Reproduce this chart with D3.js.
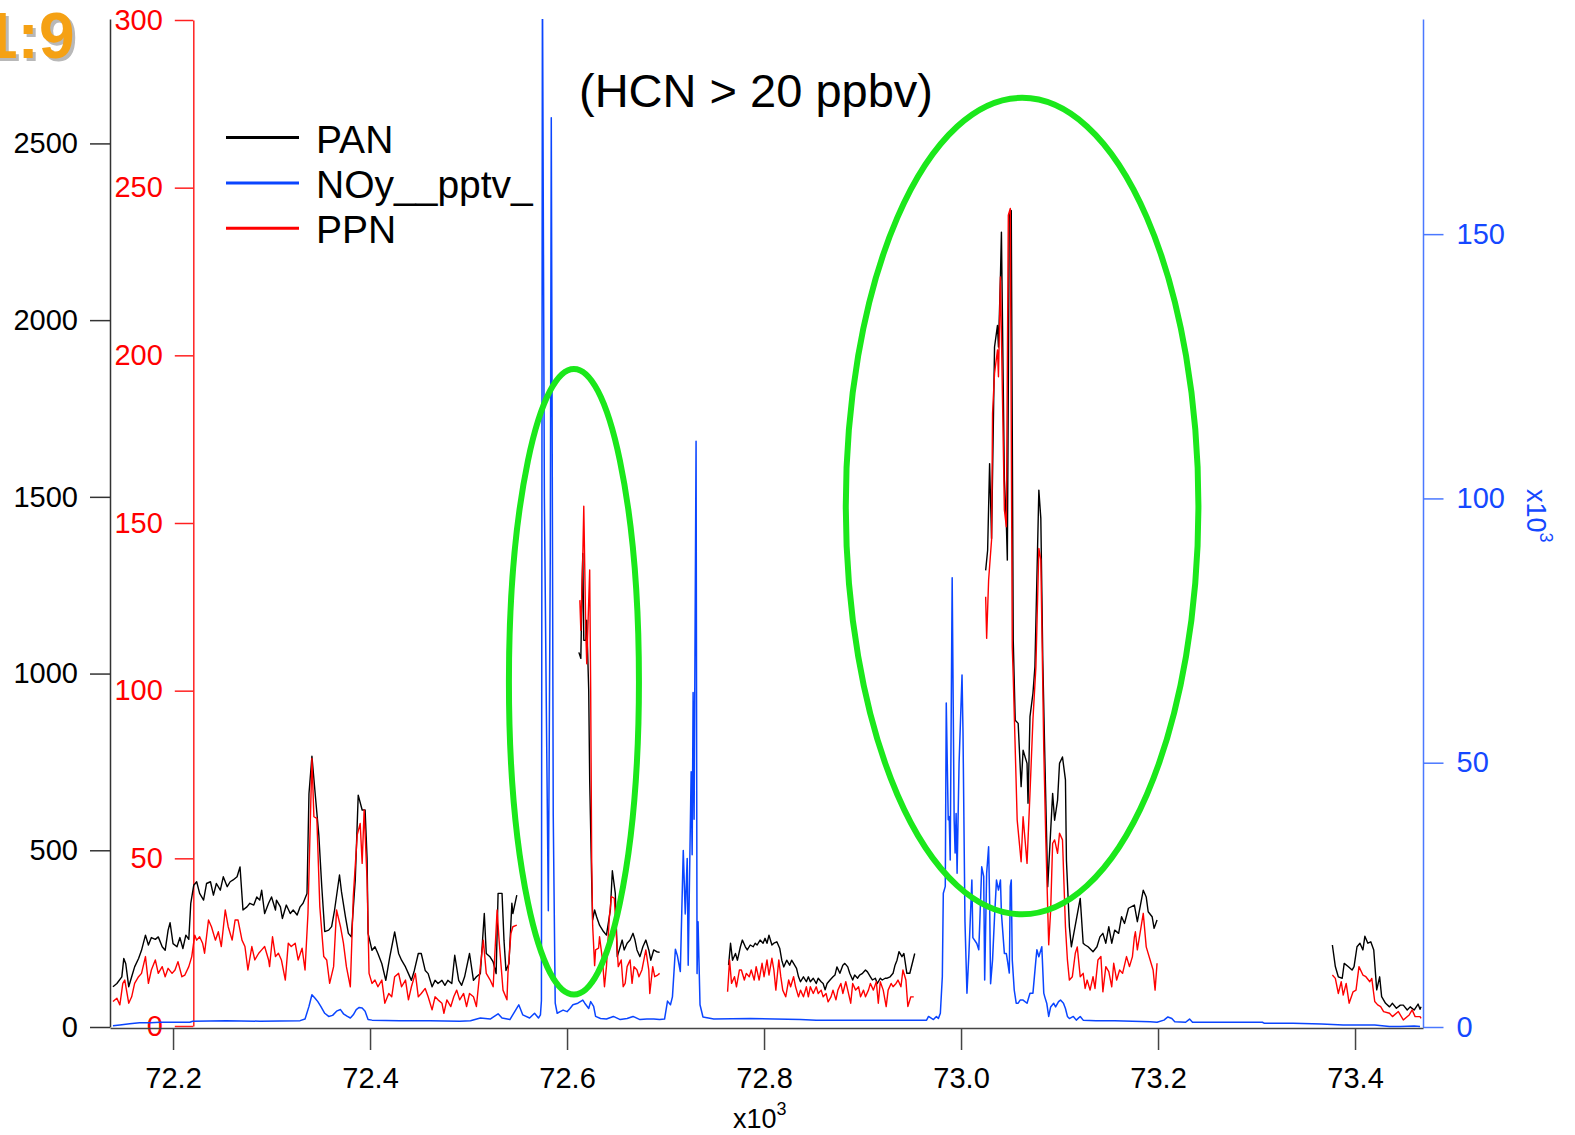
<!DOCTYPE html>
<html>
<head>
<meta charset="utf-8">
<script src="https://cdn.jsdelivr.net/npm/d3@7"></script>
<style>
body { margin: 0; background: #fff; }
svg { display: block; font-family: "Liberation Sans", Arial, Helvetica, sans-serif; }
</style>
</head>
<body>
<div id="chart"></div>
<script>
// time in seconds (axis shows x10^3), PAN / PPN in pptv, NOy in thousands of pptv
// null breaks a trace where the instrument has no data

let panData = [
  [72139,114],[72143,123],[72148,142],[72150,194],[72152,179],[72155,114],[72158,142],[72161,170],[72165,194],[72168,217],
  [72172,260],[72175,232],[72178,253],[72182,248],[72185,255],[72189,227],[72192,217],[72195,274],[72197,295],[72200,236],
  [72204,227],[72207,253],[72210,222],[72213,260],[72216,248],[72218,350],[72221,401],[72224,411],[72227,378],[72231,359],
  [72234,406],[72238,411],[72241,373],[72244,406],[72248,387],[72251,425],[72255,397],[72258,411],[72261,416],[72265,425],
  [72268,453],[72271,331],[72275,340],[72278,350],[72282,345],[72285,368],[72288,359],[72290,387],[72293,321],[72297,350],
  [72300,368],[72304,331],[72305,359],[72309,340],[72311,307],[72315,345],[72319,321],[72322,331],[72326,317],[72329,340],
  [72332,350],[72336,378],[72338,660],[72341,766],[72344,670],[72348,543],[72351,397],[72354,270],[72358,274],[72361,284],
  [72364,331],[72369,430],[72371,383],[72375,312],[72378,265],[72381,255],[72385,416],[72388,656],[72392,614],[72395,614],
  [72397,477],[72398,265],[72402,217],[72405,227],[72408,208],[72412,179],[72416,132],[72420,198],[72425,269],[72429,208],
  [72432,189],[72436,170],[72439,151],[72442,132],[72445,160],[72449,208],[72452,208],[72456,160],[72459,151],[72463,114],
  [72466,132],[72469,123],[72473,132],[72476,118],[72479,132],[72483,123],[72486,203],[72490,132],[72493,118],[72496,142],
  [72501,208],[72505,132],[72508,142],[72512,151],[72516,321],[72518,208],[72522,198],[72525,184],[72528,151],[72530,378],
  [72534,378],[72536,245],[72538,160],[72541,179],[72544,350],[72545,321],[72549,373],
  null,
  [72612,1060],[72614,1043],[72615,1208],[72616,1340],[72617,1094],[72619,1094],[72620,1151],[72622,953],[72623,698],[72625,416],
  [72626,303],[72628,331],[72630,312],[72633,288],[72637,270],[72640,260],[72644,331],[72646,442],[72649,378],[72651,199],
  [72654,227],[72656,246],[72658,218],[72661,237],[72664,246],[72667,265],[72669,246],[72671,218],[72674,199],[72677,227],
  [72680,246],[72683,218],[72685,189],[72688,218],[72691,213],[72694,211],
  null,
  [72764,175],[72766,237],[72768,189],[72771,208],[72773,189],[72776,227],[72778,246],[72781,227],[72783,218],[72786,232],
  [72789,227],[72791,237],[72793,232],[72796,246],[72799,237],[72801,251],[72803,237],[72805,260],[72808,232],[72810,237],
  [72813,241],[72816,222],[72818,189],[72820,170],[72823,189],[72826,175],[72828,189],[72830,180],[72833,166],[72835,142],
  [72837,128],[72840,142],[72843,128],[72845,142],[72847,128],[72850,138],[72853,123],[72855,138],[72858,128],[72860,123],
  [72862,105],[72864,123],[72867,133],[72870,142],[72872,147],[72874,170],[72877,152],[72880,175],[72882,180],[72885,170],
  [72887,152],[72890,133],[72892,147],[72895,138],[72897,147],[72900,152],[72903,161],[72905,156],[72908,142],[72910,133],
  [72913,138],[72915,123],[72918,138],[72920,133],[72923,138],[72925,138],[72928,142],[72931,152],[72933,175],[72935,189],
  [72937,213],[72940,199],[72942,208],[72945,152],[72948,152],[72953,208],
  null,
  [73025,1292],[73027,1349],[73029,1594],[73031,1382],[73034,1924],[73037,1985],[73038,1924],[73040,2122],[73041,2249],[73044,1547],
  [73046,1424],[73047,1321],[73049,2301],[73051,2310],[73053,1094],[73055,868],[73058,859],[73061,680],[73063,783],[73067,746],
  [73068,633],[73070,878],[73073,944],[73075,1019],[73079,1519],[73081,1439],[73083,1038],[73085,774],[73088,397],[73093,661],
  [73095,585],[73098,642],[73100,746],[73103,764],[73106,699],[73107,472],[73110,284],[73112,227],[73117,303],[73121,364],
  [73124,237],[73126,232],[73129,227],[73134,213],[73138,227],[73141,255],[73144,265],[73147,237],[73150,284],[73153,237],
  [73156,274],[73160,265],[73163,312],[73166,293],[73170,336],[73176,345],[73179,298],[73185,387],[73188,368],[73190,326],
  [73194,312],[73196,279],[73199,303],
  null,
  [73377,232],[73380,171],[73383,142],[73387,138],[73389,180],[73393,171],[73397,161],[73399,171],[73402,227],[73405,237],
  [73408,218],[73410,257],[73413,237],[73416,241],[73419,218],[73422,105],[73425,142],[73427,86],[73431,67],[73435,57],
  [73438,67],[73442,53],[73446,62],[73449,62],[73453,48],[73456,57],[73460,48],[73464,65],[73466,50],[73467,57]
];

let ppnData = [
  [72139,7.3],[72143,8.3],[72146,6.3],[72149,12.7],[72151,13.7],[72155,6.8],[72158,8.7],[72161,12.7],[72165,14.7],[72168,15.7],
  [72172,20.7],[72175,12.7],[72178,16.7],[72182,19.7],[72185,15.7],[72189,17.7],[72192,14.7],[72195,17.2],[72199,15.7],[72202,16.7],
  [72205,19.2],[72209,14.7],[72212,15.2],[72216,17.7],[72219,20.7],[72222,27.1],[72224,25.6],[72227,26.6],[72230,24.7],[72232,21.7],
  [72236,31.6],[72239,29.6],[72243,25.6],[72246,28.1],[72249,23.7],[72253,34.6],[72256,29.6],[72260,25.6],[72263,31.6],[72266,31.6],
  [72270,25.6],[72273,23.7],[72276,16.7],[72280,23.7],[72283,19.7],[72287,21.7],[72290,22.7],[72293,23.7],[72297,19.7],[72298,17.7],
  [72301,26.6],[72304,20.7],[72307,21.7],[72310,19.7],[72314,13.7],[72317,24.7],[72320,23.7],[72324,24.7],[72327,19.7],[72331,23.2],
  [72334,16.7],[72337,33.6],[72341,79.8],[72343,62.4],[72346,61.9],[72349,35.6],[72353,20.7],[72356,19.7],[72359,12.7],[72363,17.7],
  [72366,34.6],[72370,29.6],[72373,24.7],[72376,17.7],[72380,11.7],[72383,38.6],[72387,57],[72390,60.4],[72392,48.5],[72394,64.4],
  [72397,43.5],[72399,15.7],[72402,12.7],[72405,13.7],[72408,11.7],[72412,13.7],[72415,6.8],[72419,9.7],[72422,8.7],[72425,14.7],
  [72429,15.7],[72432,11.7],[72436,13.7],[72439,7.8],[72442,11.7],[72446,15.7],[72449,8.7],[72452,9.7],[72456,11.2],[72459,8.7],
  [72463,4.8],[72466,8.7],[72469,7.8],[72473,6.8],[72475,3.8],[72478,7.8],[72482,5.8],[72485,8.7],[72488,10.7],[72491,7.8],
  [72495,9.7],[72498,5.8],[72501,9.7],[72505,8.7],[72508,5.8],[72512,17.7],[72515,25.6],[72518,15.7],[72522,13.7],[72525,11.7],
  [72529,34.6],[72531,25.6],[72535,10.7],[72539,7.8],[72540,15.7],[72543,27.6],[72545,29.6],[72549,30.1],
  null,
  [72613,127],[72614,118],[72616,140],[72617,155],[72619,118],[72620,108],[72623,136],[72624,100],[72625,50],[72626,30],
  [72628,18],[72629,22.7],[72632,23.2],[72633,26.6],[72636,19.7],[72638,11.7],[72640,17.7],[72643,32.6],[72645,38.6],[72648,38.1],
  [72650,27.6],[72652,17.7],[72655,19.7],[72657,11.7],[72659,12.7],[72661,17.7],[72664,19.7],[72666,12.7],[72668,17.7],[72671,16.7],
  [72673,14.7],[72676,16.7],[72678,19.7],[72680,22.7],[72683,16.7],[72684,9.7],[72687,17.7],[72689,14.7],[72692,15.2],[72694,15.7],
  null,
  [72763,10.2],[72765,19.7],[72767,12.7],[72770,14.7],[72772,11.7],[72775,16.7],[72777,16.7],[72780,13.7],[72782,15.7],[72785,14.7],
  [72787,16.7],[72790,13.7],[72792,17.7],[72795,13.7],[72798,18.7],[72800,14.7],[72803,19.7],[72805,15.2],[72808,20.2],[72810,16.7],
  [72812,10.7],[72815,19.7],[72817,14.7],[72819,10.7],[72822,8.7],[72825,13.7],[72827,11.7],[72830,14.7],[72832,11.7],[72835,8.7],
  [72837,10.7],[72840,8.7],[72843,11.7],[72845,8.7],[72847,11.7],[72850,9.7],[72853,11.7],[72855,9.7],[72858,10.7],[72860,8.7],
  [72863,9.7],[72865,7.2],[72868,8.7],[72870,10.7],[72873,7.8],[72875,10.7],[72878,12.7],[72880,9.7],[72883,13.2],[72885,10.7],
  [72888,6.8],[72890,12.7],[72893,10.7],[72896,11.7],[72898,8.7],[72901,10.7],[72903,8.7],[72906,10.7],[72908,12.7],[72911,10.7],
  [72914,13.2],[72916,6.8],[72918,13.2],[72921,10.7],[72924,5.8],[72926,10.7],[72929,12.7],[72931,11.7],[72934,12.7],[72936,13.7],
  [72939,11.7],[72941,16.7],[72944,13.7],[72946,5.8],[72949,8.7],[72952,8.7],
  null,
  [73025,128],[73026,115.6],[73028,133],[73031,145],[73032,182.7],[73034,194.6],[73037,201.6],[73038,193.6],[73040,223.4],[73044,153.9],
  [73046,148.9],[73048,241.8],[73050,243.8],[73052,113.1],[73053,104],[73057,61.4],[73061,49],[73063,62.4],[73067,48.5],[73070,69.4],
  [73073,91.3],[73076,107.1],[73079,142.4],[73081,139],[73084,82.3],[73086,56.4],[73089,24.2],[73091,34.6],[73093,54.5],[73095,55.5],
  [73098,51.5],[73100,57.5],[73103,55.5],[73106,29.6],[73108,19.7],[73110,13.7],[73113,14.7],[73116,21.7],[73118,23.6],[73121,14.7],
  [73124,15.7],[73126,11.2],[73128,13.7],[73131,10.7],[73134,14.7],[73136,11.2],[73139,19.7],[73142,20.7],[73144,10.2],[73147,17.7],
  [73150,16.2],[73153,11.7],[73155,18.7],[73158,13.7],[73161,16.7],[73164,15.7],[73168,20.7],[73171,17.7],[73174,20.7],[73176,26.6],
  [73177,28.1],[73179,22.7],[73185,33.6],[73188,23.6],[73195,16.7],[73197,10.7],[73199,18.7],
  null,
  [73377,15.2],[73380,14.2],[73383,9.7],[73386,13.2],[73388,9.2],[73391,12.7],[73394,6.8],[73398,10.2],[73401,10.7],[73404,17.7],
  [73408,15.2],[73411,14.7],[73415,13.2],[73417,14.2],[73420,7.3],[73423,6.3],[73426,5.8],[73429,4.3],[73435,3.8],[73438,2.8],
  [73444,4.3],[73449,1.8],[73455,3.3],[73458,4.8],[73461,2.8],[73466,2.8],[73467,2.3]
];

let noyData = [
  [72139,0.25],[72146,0.4],[72156,0.6],[72166,0.8],[72177,0.8],[72187,0.9],[72197,0.9],[72207,0.9],[72217,0.9],[72220,1.1],
  [72254,1.2],[72288,1.1],[72329,1.2],[72334,1.5],[72338,3.9],[72341,6.1],[72344,5.5],[72347,4.8],[72350,3.9],[72354,2.6],
  [72358,2.0],[72362,2.2],[72366,3.0],[72370,3.3],[72373,2.5],[72377,2.0],[72380,1.7],[72383,2.3],[72386,3.3],[72389,3.7],
  [72392,3.6],[72395,3.0],[72398,1.4],[72402,1.3],[72430,1.2],[72461,1.2],[72491,1.1],[72502,1.2],[72512,1.7],[72522,1.5],
  [72530,2.5],[72534,1.7],[72542,1.4],[72551,4.2],[72555,2.3],[72562,1.7],[72567,2.6],[72571,1.7],[72573,2.3],[72574,5],
  [72575,200],[72577,100],[72579,60],[72581,22],[72583,90],[72584,172],[72586,40],[72588,4.5],[72590,2.6],[72593,2.9],
  [72596,3.2],[72600,2.9],[72603,3.5],[72606,4.2],[72611,4.5],[72616,5.1],[72618,4.5],[72622,3.5],[72624,4.8],[72627,3.9],
  [72629,2.0],[72634,1.6],[72640,1.5],[72647,2.0],[72654,1.4],[72661,1.6],[72667,2.0],[72674,1.4],[72681,1.5],[72688,1.5],
  [72694,1.4],[72699,1.5],[72702,4.9],[72705,4.2],[72707,5.7],[72710,14.7],[72712,13.5],[72715,10.5],[72718,33.4],[72720,21.4],
  [72722,31.9],[72723,11.7],[72726,48.3],[72727,32.6],[72728,63.3],[72729,39.3],[72731,110.8],[72732,10.1],[72733,19.9],[72735,4.2],
  [72738,1.9],[72749,1.5],[72786,1.6],[72837,1.4],[72853,1.3],[72904,1.3],[72938,1.3],[72965,1.3],[72967,2.0],[72972,1.4],
  [72975,2.0],[72977,1.6],[72979,2.6],[72981,9.5],[72982,25.3],[72984,26.6],[72985,61.3],[72987,39.2],[72988,39.8],[72989,31.6],
  [72991,85],[72993,39.2],[72994,32.9],[72995,40.4],[72996,29.1],[72998,49.9],[73001,66.6],[73002,55.6],[73004,19.9],[73006,6.4],
  [73008,13.9],[73011,27.8],[73012,16.9],[73016,15.8],[73018,14.6],[73019,19.6],[73021,30.3],[73023,28.5],[73024,8.9],[73026,29.1],
  [73028,34.1],[73029,24.0],[73030,8.2],[73032,12.7],[73034,20.8],[73036,27.8],[73038,25.9],[73040,27.8],[73041,21.5],[73044,13.9],
  [73046,13.9],[73047,12.7],[73049,10.2],[73050,26.6],[73051,27.8],[73052,12.7],[73054,7.0],[73056,4.5],[73058,4.5],[73060,5.1],
  [73063,5.1],[73067,4.5],[73070,6.4],[73073,6.4],[73076,12.7],[73077,14.6],[73079,13.3],[73082,15.2],[73084,6.4],[73085,5.7],
  [73087,4.5],[73089,2.0],[73091,3.8],[73094,4.5],[73096,3.8],[73099,4.8],[73101,5.1],[73104,4.5],[73106,3.5],[73108,2.0],
  [73110,1.6],[73114,2.0],[73117,1.3],[73121,2.0],[73124,1.3],[73137,1.2],[73156,1.2],[73192,1.0],[73199,0.9],[73206,1.3],
  [73210,1.9],[73214,1.6],[73217,1.0],[73228,0.9],[73232,1.5],[73235,0.9],[73264,0.9],[73306,0.9],[73308,0.7],[73337,0.7],
  [73366,0.57],[73388,0.4],[73420,0.4],[73435,0.1],[73446,0.1],[73460,0.2],[73466,0.1]
];

let timeTicks = [72200, 72400, 72600, 72800, 73000, 73200, 73400];
let panTicks = [0, 500, 1000, 1500, 2000, 2500];
let ppnTicks = [0, 50, 100, 150, 200, 250, 300];
let noyTicks = [0, 50, 100, 150];

// circled plumes: centre time, centre PAN level, half widths
let plumeTime = [72607, 73062];
let plumePan = [977, 1474];
let plumeHalfTime = [66, 179];
let plumeHalfPan = [885, 1155];

let legendNames = ["PAN", "NOy__pptv_", "PPN"];

let width = 1575,
    height = 1135;

let svg = d3.select("#chart")
    .append("svg")
    .attr("width", width)
    .attr("height", height);

let x = d3.scaleLinear().domain([72136, 73469]).range([110, 1423]);
let yPan = d3.scaleLinear().domain([0, 2852]).range([1027, 19]);
let yPpn = d3.scaleLinear().domain([0, 300]).range([1026, 20]);
let yNoy = d3.scaleLinear().domain([0, 190.7]).range([1027, 19]);

const tickFont = 29;

function styleAxis(g, color, lineColor) {
    g.attr("font-size", tickFont)
        .attr("font-family", null);
    g.select(".domain").attr("stroke", lineColor).attr("stroke-width", 1.5);
    g.selectAll(".tick line").attr("stroke", lineColor).attr("stroke-width", 1.5);
    g.selectAll(".tick text").attr("fill", color);
}

// left PAN axis
svg.append("g")
    .attr("transform", "translate(110,0)")
    .call(d3.axisLeft(yPan).tickValues(panTicks).tickSize(20).tickSizeOuter(0).tickPadding(12).tickFormat(d3.format("d")))
    .call(g => styleAxis(g, "#000", "#333"));

// inner PPN axis
svg.append("g")
    .attr("transform", "translate(193.3,0)")
    .call(d3.axisLeft(yPpn).tickValues(ppnTicks).tickSize(18.5).tickSizeOuter(0).tickPadding(12).tickFormat(d3.format("d")))
    .call(g => styleAxis(g, "#ff0000", "#ff2020"));

// right NOy axis
svg.append("g")
    .attr("transform", "translate(1423,0)")
    .call(d3.axisRight(yNoy).tickValues(noyTicks).tickSize(20.5).tickSizeOuter(0).tickPadding(13).tickFormat(d3.format("d")))
    .call(g => styleAxis(g, "#1548ff", "#4a78ff"));

// bottom time axis
svg.append("g")
    .attr("transform", "translate(0,1028)")
    .call(d3.axisBottom(x).tickValues(timeTicks).tickSize(22).tickSizeOuter(0).tickPadding(17).tickFormat(d => (d / 1000).toFixed(1)))
    .call(g => styleAxis(g, "#000", "#444"));

// x10^3 labels
let xl = svg.append("text")
    .attr("x", 733).attr("y", 1128)
    .attr("font-size", 27);
xl.append("tspan").text("x10");
xl.append("tspan").attr("font-size", 18).attr("dy", -13).text("3");

let yl = svg.append("text")
    .attr("transform", "translate(1527,489) rotate(90)")
    .attr("font-size", 27)
    .attr("fill", "#1548ff");
yl.append("tspan").text("x10");
yl.append("tspan").attr("font-size", 18).attr("dy", -13).text("3");

// plot area clip
svg.append("clipPath").attr("id", "plotclip")
    .append("rect")
    .attr("x", 110).attr("y", 19)
    .attr("width", 1313).attr("height", 1009);

let plot = svg.append("g").attr("clip-path", "url(#plotclip)");

function traceLine(yScale) {
    return d3.line()
        .defined(d => d !== null)
        .x(d => x(d[0]))
        .y(d => yScale(d[1]));
}

plot.append("path")
    .datum(panData)
    .attr("fill", "none")
    .attr("stroke", "#000")
    .attr("stroke-width", 1.4)
    .attr("stroke-linejoin", "round")
    .attr("d", traceLine(yPan));

plot.append("path")
    .datum(noyData)
    .attr("fill", "none")
    .attr("stroke", "#0a45ff")
    .attr("stroke-width", 1.5)
    .attr("stroke-linejoin", "round")
    .attr("d", traceLine(yNoy));

plot.append("path")
    .datum(ppnData)
    .attr("fill", "none")
    .attr("stroke", "#ff0000")
    .attr("stroke-width", 1.4)
    .attr("stroke-linejoin", "round")
    .attr("d", traceLine(yPpn));

// green rings round the two plumes
svg.selectAll("ellipse.plume")
    .data(plumeTime)
    .enter()
    .append("ellipse")
    .attr("class", "plume")
    .attr("cx", d => x(d))
    .attr("cy", (d, i) => yPan(plumePan[i]))
    .attr("rx", (d, i) => x(d + plumeHalfTime[i]) - x(d))
    .attr("ry", (d, i) => yPan(0) - yPan(plumeHalfPan[i]))
    .attr("fill", "none")
    .attr("stroke", "#1be81b")
    .attr("stroke-width", 6);

// legend
let legendColors = ["#000", "#0a45ff", "#ff0000"];
let legend = svg.append("g");
legend.selectAll("line")
    .data(legendNames)
    .enter()
    .append("line")
    .attr("x1", 226).attr("x2", 299)
    .attr("y1", (d, i) => 137.6 + i * 45.3)
    .attr("y2", (d, i) => 137.6 + i * 45.3)
    .attr("stroke", (d, i) => legendColors[i])
    .attr("stroke-width", 3);
legend.selectAll("text")
    .data(legendNames)
    .enter()
    .append("text")
    .attr("x", 316)
    .attr("y", (d, i) => 152.7 + i * 45.3)
    .attr("font-size", 39)
    .text(d => d);

// title
svg.append("text")
    .attr("x", 579).attr("y", 107)
    .attr("font-size", 47)
    .text("(HCN > 20 ppbv)");

// panel tag, cut at the left edge as in the original slide
svg.append("text")
    .attr("x", -15).attr("y", 61)
    .attr("font-size", 64).attr("font-weight", "bold")
    .attr("fill", "#b8b8b8")
    .text("1:9");
svg.append("text")
    .attr("x", -18).attr("y", 58)
    .attr("font-size", 64).attr("font-weight", "bold")
    .attr("fill", "#f5a114")
    .text("1:9");
</script>
</body>
</html>
